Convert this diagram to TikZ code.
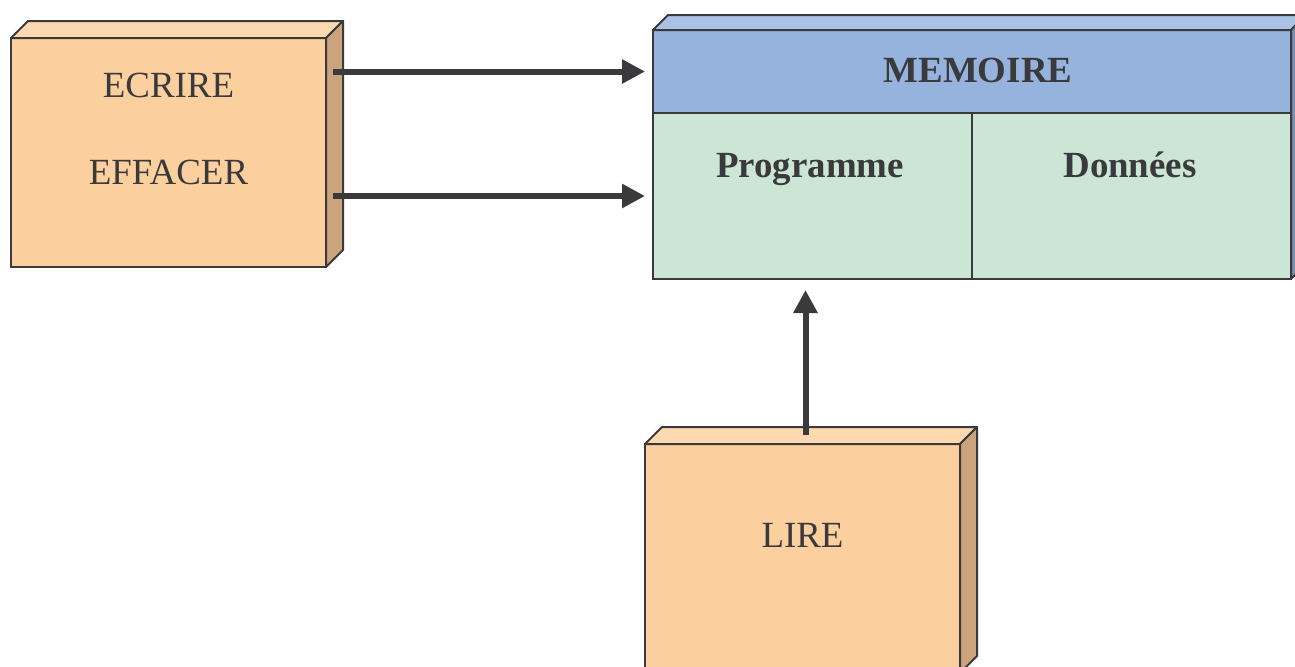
\documentclass[tikz,border=0pt]{standalone}
\usepackage{fontspec}
\setmainfont{Liberation Serif}
\usepackage{xcolor}
\usetikzlibrary{arrows.meta,positioning,calc}

\definecolor{boxFace}{HTML}{FCD09E}
\definecolor{boxTop}{HTML}{FDD9AF}
\definecolor{boxSide}{HTML}{CBA37D}
\definecolor{memBlue}{HTML}{95B3DD}
\definecolor{memTop}{HTML}{A9C2E6}
\definecolor{memSide}{HTML}{7A8FB0}
\definecolor{memGreen}{HTML}{CCE6D5}
\definecolor{ink}{HTML}{3A3A3C}

\begin{document}
\begin{tikzpicture}[
	x=0.2mm, y=-0.2mm,
	% 3D operation boxes
	opBox/.style={
		draw=ink,
		fill=boxFace,
		line width=0.4mm,
		minimum width=63mm,
		minimum height=45.8mm,
		inner sep=0pt,
		outer sep=0pt
	},
	opTop/.style={
		draw=ink,
		fill=boxTop,
		line width=0.4mm,
		line join=round
	},
	opSide/.style={
		draw=ink,
		fill=boxSide,
		line width=0.4mm,
		line join=round
	},
	% Memory block
	memHeader/.style={
		draw=ink,
		fill=memBlue,
		line width=0.4mm,
		minimum width=127.6mm,
		minimum height=16.6mm,
		inner sep=0pt,
		outer sep=0pt
	},
	memCell/.style={
		draw=ink,
		fill=memGreen,
		line width=0.4mm,
		minimum width=63.8mm,
		minimum height=33.2mm,
		inner sep=0pt,
		outer sep=0pt
	},
	flow/.style={
		-{Triangle[length=4.6mm,width=4.6mm]},
		draw=ink,
		line width=1.2mm
	},
	txt/.style={
		anchor=base,
		text=ink,
		font=\fontsize{21}{25}\selectfont
	},
	txtBold/.style={
		anchor=base,
		text=ink,
		font=\fontsize{21}{25}\selectfont\bfseries
	}
	]
	
	% Page frame
	\useasboundingbox (0,0) rectangle (1295,666);
	\clip (0,0) rectangle (1295,666);
	\fill[white] (0,0) rectangle (1295,666);
	
	% Operation boxes (front faces)
	\node[opBox] (ecrire) at (168.5,152.5) {};
	\node[opBox] (lire)   at (802.5,558.5) {};
	
	% Depth faces of the operation boxes
	\draw[opTop] (ecrire.north west) -- ++(17,-17) -- ($(ecrire.north east)+(17,-17)$) -- (ecrire.north east) -- cycle;
	\draw[opSide] (ecrire.north east) -- ++(17,-17) -- ($(ecrire.south east)+(17,-17)$) -- (ecrire.south east) -- cycle;
	
	\draw[opTop] (lire.north west) -- ++(17,-17) -- ($(lire.north east)+(17,-17)$) -- (lire.north east) -- cycle;
	\draw[opSide] (lire.north east) -- ++(17,-17) -- ($(lire.south east)+(17,-17)$) -- (lire.south east) -- cycle;
	
	% Memory block
	\node[memHeader] (memHead) at (972,71.5) {};
	\node[memCell]   (memProg) at (812.5,196) {};
	\node[memCell]   (memData) at (1131.5,196) {};
	
	\draw[opTop, fill=memTop] (memHead.north west) -- ++(15,-15) -- ($(memHead.north east)+(15,-15)$) -- (memHead.north east) -- cycle;
	\draw[opSide, fill=memSide] (memHead.north east) -- ++(15,-15) -- ($(memData.south east)+(15,-15)$) -- (memData.south east) -- cycle;
	
	% Labels
	\node[txt] (ecrireTxt)  at (168.5,97)  {ECRIRE};
	\node[txt] (effacerTxt) at (168.5,184) {EFFACER};
	\node[txt] (lireTxt)    at (802.5,547) {LIRE};
	
	\node[txtBold] (memTxt)  at (978,82)    {MEMOIRE};
	\node[txtBold] (progTxt) at (810,177)   {Programme};
	\node[txtBold] (dataTxt) at (1130,177)  {Données};
	
	% Access arrows
	\draw[flow] ($(ecrire.east |- memHead.west)+(7,0)$) -- ($(memHead.west)+(-8,0)$);
	\draw[flow] ($(ecrire.east |- memProg.west)+(7,0)$) -- ($(memProg.west)+(-8,0)$);
	\draw[flow] ($(lire.north)+(3,-9)$) -- ($(lire.north |- memProg.south)+(3,11)$);
	
\end{tikzpicture}
\end{document}
